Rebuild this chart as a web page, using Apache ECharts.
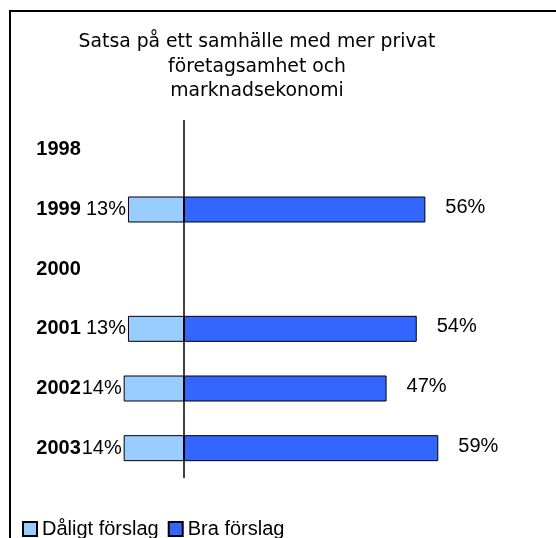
<!DOCTYPE html>
<html>
<head>
<meta charset="utf-8">
<script src="https://cdn.jsdelivr.net/npm/echarts@6/dist/echarts.min.js"></script>
<style>
  html, body { margin: 0; padding: 0; background: #fff; }
  #chart { width: 556px; height: 538px; }
</style>
</head>
<body>
<div id="chart"></div>
<script>
// Survey answers per year (percent)
const years = ['1998', '1999', '2000', '2001', '2002', '2003'];
const badProposal = [null, 13, null, 13, 14, 14];   // Dåligt förslag
const goodProposal = [null, 56, null, 54, 47, 59];  // Bra förslag

const titleText = 'Satsa på ett samhälle med mer privat\nföretagsamhet och\nmarknadsekonomi';

const chart = echarts.init(document.getElementById('chart'), null, { renderer: 'canvas' });

const pctFont = { fontFamily: '"Liberation Sans", Arial, sans-serif', fontSize: 20, color: '#000' };

chart.setOption({
  animation: false,
  backgroundColor: '#fff',
  title: {
    text: titleText,
    left: 252,
    top: 25,
    textAlign: 'center',
    textStyle: {
      fontFamily: '"DejaVu Sans", Verdana, sans-serif',
      fontSize: 18.8,
      fontWeight: 'normal',
      lineHeight: 24.5,
      color: '#000'
    }
  },
  graphic: [{
    type: 'rect',
    shape: { x: 10, y: 11, width: 600, height: 600 },
    style: { fill: null, stroke: '#000', lineWidth: 2 },
    silent: true,
    z: 100
  }],
  legend: {
    left: 17,
    top: 514,
    itemWidth: 14,
    itemHeight: 14,
    itemGap: 9,
    icon: 'rect',
    textStyle: pctFont,
    data: ['Dåligt förslag', 'Bra förslag']
  },
  grid: { left: 97.8, right: 70.3, top: 120, height: 358 },
  xAxis: {
    type: 'value',
    min: -20,
    max: 70,
    interval: 10,
    show: false
  },
  yAxis: {
    type: 'category',
    data: years,
    inverse: true,
    axisLine: { show: false },
    axisTick: { show: false },
    axisLabel: {
      margin: 17,
      fontFamily: '"Liberation Sans", Arial, sans-serif',
      fontSize: 20,
      fontWeight: 'bold',
      color: '#000'
    }
  },
  series: [
    {
      name: 'Dåligt förslag',
      type: 'bar',
      stack: 'total',
      barWidth: 26,
      data: badProposal.map(v => v == null ? '-' : -v),
      itemStyle: { color: '#99CCFF', borderColor: '#000', borderWidth: 1 },
      label: {
        show: true,
        position: 'left',
        distance: 2,
        formatter: p => Math.abs(p.value) + '%',
        ...pctFont
      }
    },
    {
      name: 'Bra förslag',
      type: 'bar',
      stack: 'total',
      barWidth: 26,
      data: goodProposal.map(v => v == null ? '-' : v),
      itemStyle: { color: '#3366FF', borderColor: '#000', borderWidth: 1 },
      label: {
        show: true,
        position: 'right',
        distance: 20,
        offset: [0, -2],
        formatter: p => p.value + '%',
        ...pctFont
      },
      markLine: {
        silent: true,
        symbol: ['none', 'none'],
        label: { show: false },
        lineStyle: { color: '#000', width: 1.5, type: 'solid' },
        data: [{ xAxis: 0 }]
      }
    }
  ]
});
</script>
</body>
</html>
